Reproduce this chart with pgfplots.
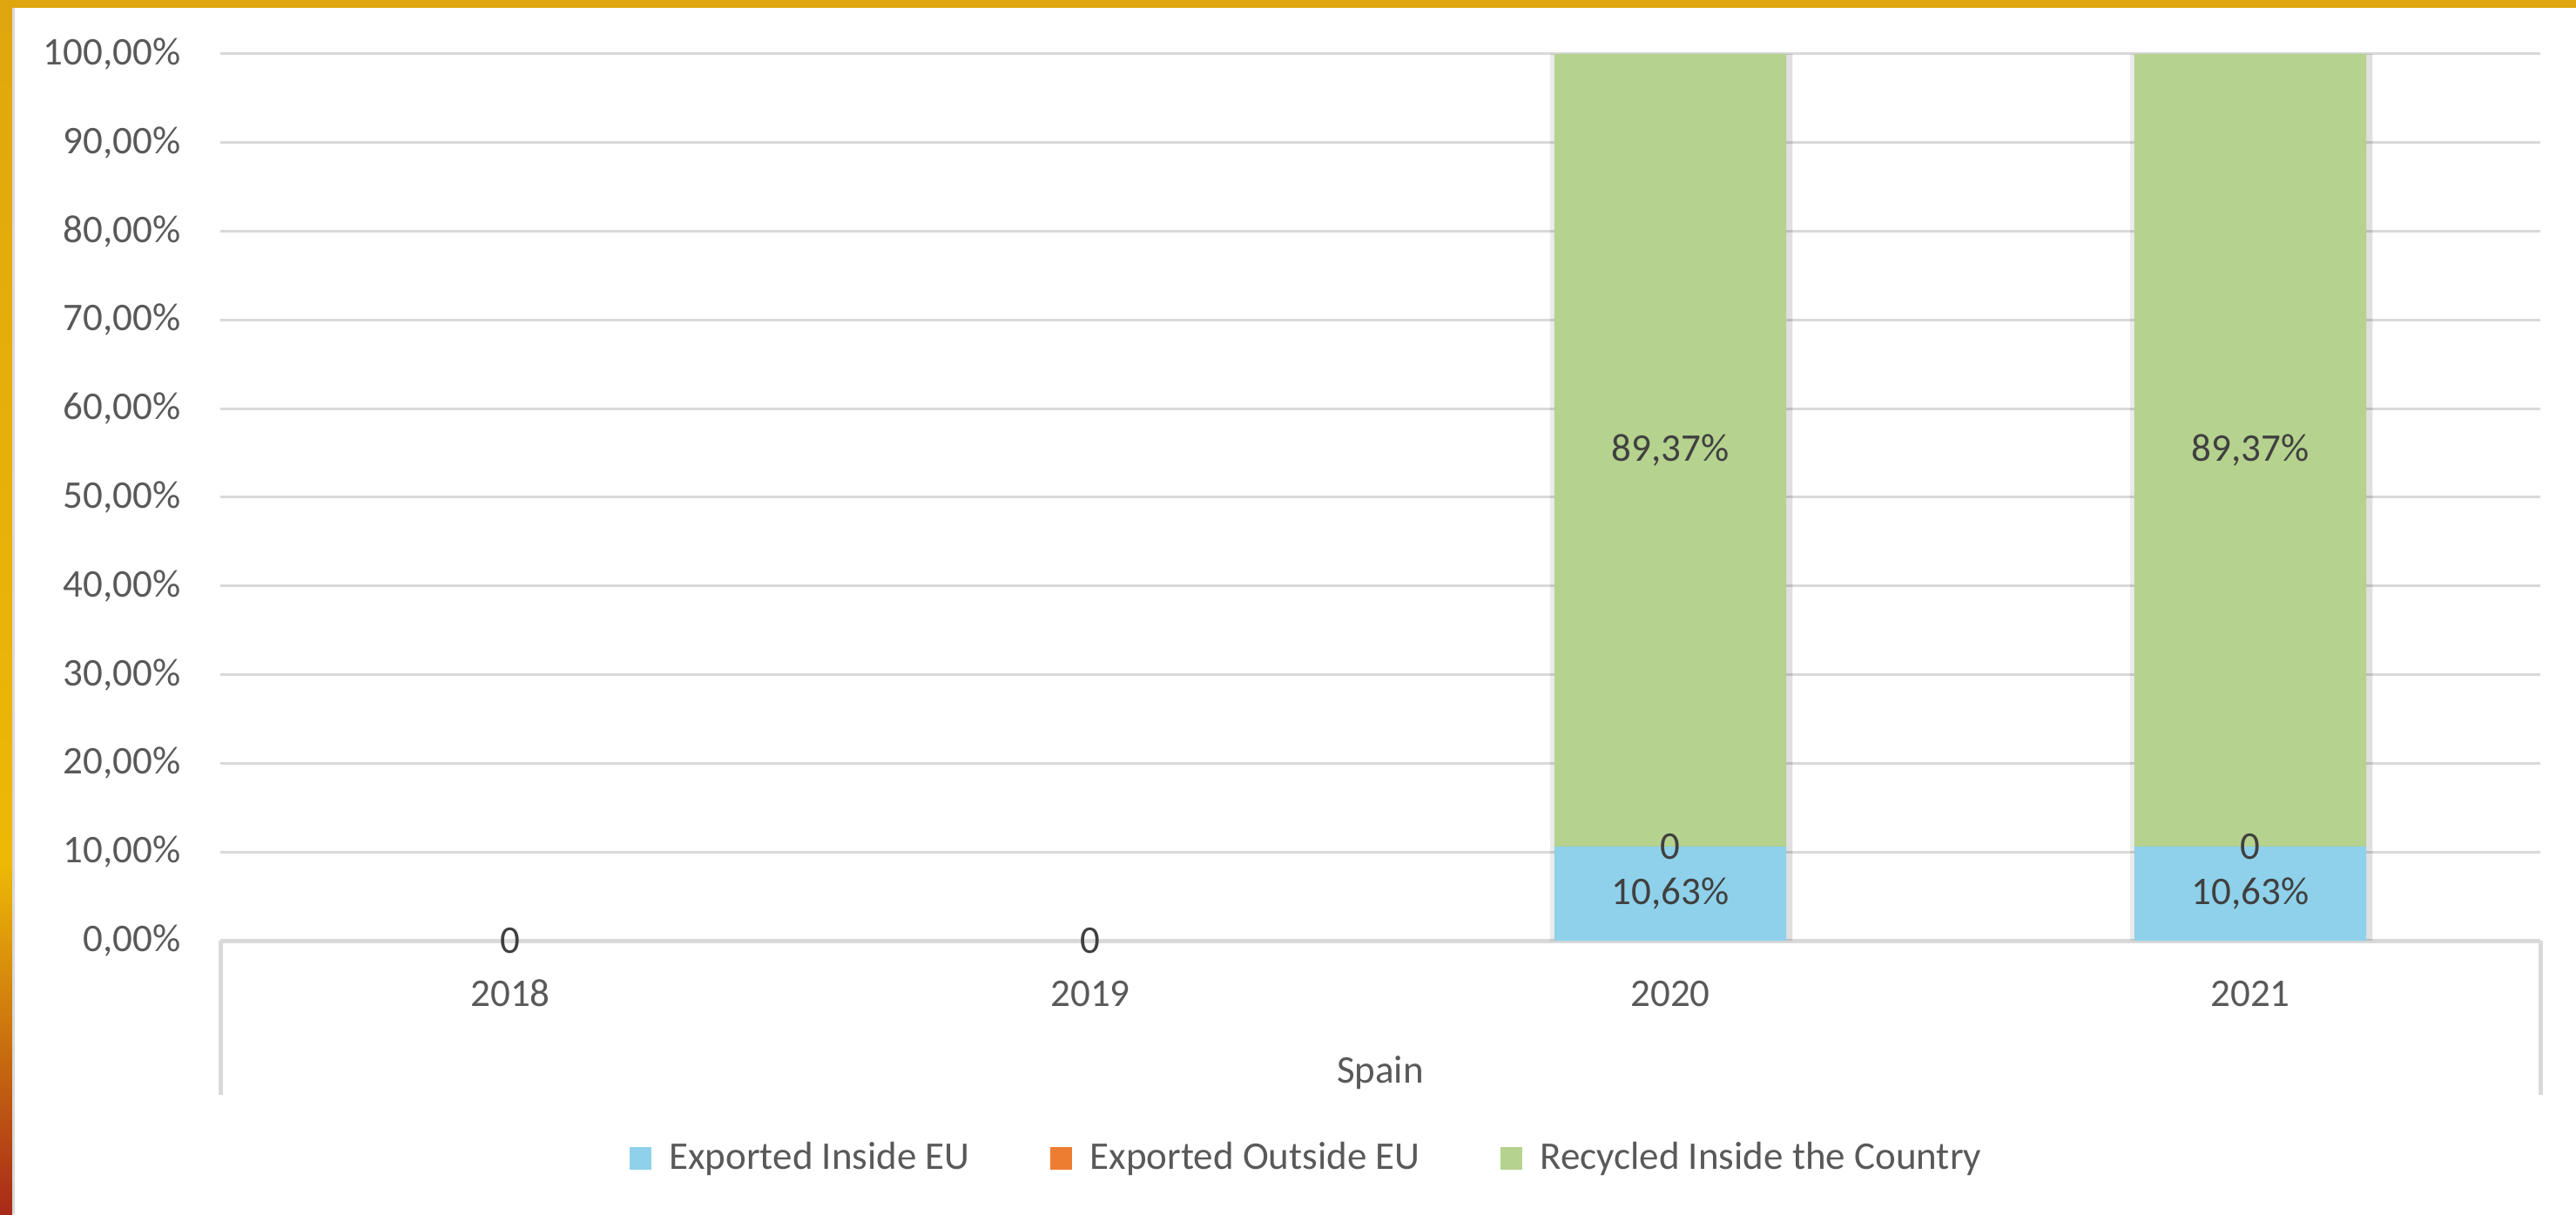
\documentclass[border=0pt]{standalone}
\usepackage{pgfplots}
\pgfplotsset{compat=1.18}
\usepackage{pgfplotstable}
\usepackage{fontspec}
\setmainfont{Carlito}
\definecolor{cBlue}{HTML}{8FD1EA}
\definecolor{cOrange}{HTML}{ED7D31}
\definecolor{cGreen}{HTML}{B5D28E}
\definecolor{cGrid}{HTML}{D9D9D9}
\definecolor{cText}{HTML}{595959}
\definecolor{cLab}{HTML}{404040}
\definecolor{cGold}{HTML}{DFA70D}
\definecolor{cGold2}{HTML}{EDB806}
\definecolor{cRed}{HTML}{A82A18}

% x = category index, v = value (%), b = stack base below this series, lab = data label
\pgfplotstableread{
x v b lab
0 0 0 {}
1 0 0 {}
2 10.63 0 {10,63\%}
3 10.63 0 {10,63\%}
}\insideEU
\pgfplotstableread{
x v b lab
0 0 0 0
1 0 0 0
2 0 10.63 0
3 0 10.63 0
}\outsideEU
\pgfplotstableread{
x v b lab
0 0 0 {}
1 0 0 {}
2 89.37 10.63 {89,37\%}
3 89.37 10.63 {89,37\%}
}\recycled

\newcommand{\lf}{\fontsize{11.25pt}{13.5pt}\selectfont}

\pgfplotsset{
  mybar/.style={draw=none, fill=#1,
    preaction={fill=black, fill opacity=0.12, transform canvas={xshift=1.8pt}},
    preaction={fill=black, fill opacity=0.08, transform canvas={xshift=-1.2pt}},
    forget plot},
  mylab/.style={draw=none, mark=none, forget plot,
    nodes near coords={\pgfplotspointmeta},
    point meta=explicit symbolic,
    every node near coord/.append style={anchor=center, inner sep=0pt, font=\lf, text=cLab}},
  samegeom/.style={at={(63.25pt,78.5pt)}, anchor=south west,
    scale only axis, width=666pt, height=254.5pt,
    xmin=-0.5, xmax=3.5, ymin=0, ymax=100, clip=false},
}

\begin{document}
\begin{tikzpicture}
\path[use as bounding box, fill=white] (0pt,0pt) rectangle (739.5pt,348.5pt);
\fill[cGold] (0pt,346.25pt) rectangle (739.5pt,348.5pt);
\shade[top color=cGold2, bottom color=cRed] (0pt,0pt) rectangle (3.5pt,100pt);
\shade[top color=cGold, bottom color=cGold2] (0pt,100pt) rectangle (3.5pt,346.25pt);
\fill[cGrid] (3.5pt,0pt) rectangle (4.25pt,346.25pt);
\begin{axis}[
  samegeom,
  ybar stacked, bar width=0.4,
  xtick={0,1,2,3}, xticklabels={2018,2019,2020,2021},
  ytick={0,10,20,30,40,50,60,70,80,90,100},
  yticklabels={{0,00\%},{10,00\%},{20,00\%},{30,00\%},{40,00\%},{50,00\%},{60,00\%},{70,00\%},{80,00\%},{90,00\%},{100,00\%}},
  /pgf/number format/assume math mode=true,
  axis x line*=bottom, axis y line*=left,
  x axis line style={cGrid, line width=1.25pt, -},
  y axis line style={draw=none},
  major tick length=0pt,
  ymajorgrids, grid style={cGrid, line width=0.75pt},
  extra x ticks={-0.5,3.5}, extra x tick labels={},
  extra x tick style={major tick length=44.25pt, tick align=outside,
     tick style={cGrid, line width=1.25pt}, xmajorgrids=false},
  yticklabel style={text=cText, font=\lf, anchor=east, inner sep=0pt, xshift=-11.25pt},
  xticklabel style={text=cText, font=\lf, anchor=base, inner sep=0pt, yshift=-18.75pt},
  xlabel={Spain},
  xlabel style={at={(axis description cs:0.5,0)}, anchor=base, inner sep=0pt, yshift=-40.75pt, text=cText, font=\lf},
  legend style={at={(axis description cs:0.4692,-0.2456)}, anchor=center, draw=none, fill=none,
     legend columns=3, font=\lf, text=cText, inner sep=0pt,
     /tikz/every odd column/.style={column sep=3.25pt},
     /tikz/every even column/.style={column sep=21pt}},
  legend image code/.code={\fill[#1] (0pt,-3.25pt) rectangle (6.25pt,3.25pt);},
]
\addplot[mybar=cBlue] table[x=x, y=v] {\insideEU};
\addplot[mybar=cOrange] table[x=x, y=v] {\outsideEU};
\addplot[mybar=cGreen] table[x=x, y=v] {\recycled};
\addlegendimage{fill=cBlue, draw=none}
\addlegendentry{Exported Inside EU}
\addlegendimage{fill=cOrange, draw=none}
\addlegendentry{Exported Outside EU}
\addlegendimage{fill=cGreen, draw=none}
\addlegendentry{Recycled Inside the Country}
\end{axis}
% data labels, centred in each stacked segment
\begin{axis}[samegeom, hide axis]
\addplot[mylab] table[x=x, y expr=\thisrow{b}+0.5*\thisrow{v}, meta=lab] {\insideEU};
\addplot[mylab] table[x=x, y expr=\thisrow{b}+0.5*\thisrow{v}, meta=lab] {\outsideEU};
\addplot[mylab] table[x=x, y expr=\thisrow{b}+0.5*\thisrow{v}, meta=lab] {\recycled};
\end{axis}
\end{tikzpicture}
\end{document}
